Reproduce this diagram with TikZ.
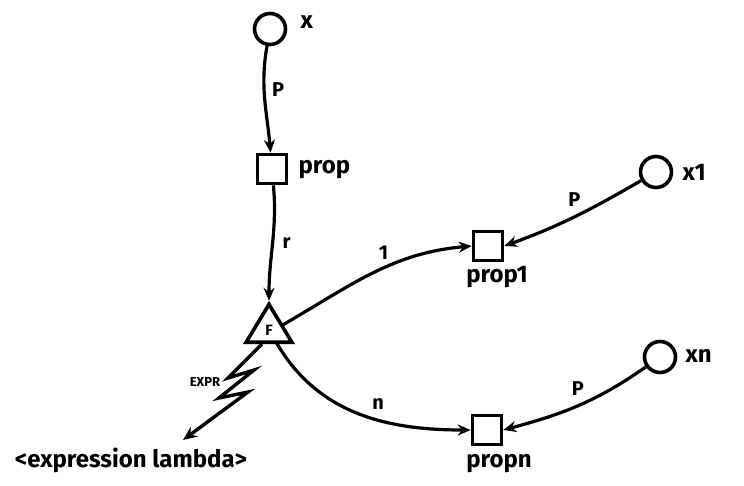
\documentclass[tikz,border=0pt]{standalone}
\usepackage{fontspec}
\setmainfont{Fira Sans}
\usetikzlibrary{arrows.meta,shapes.geometric}
\begin{document}
\begin{tikzpicture}[x=1pt,y=-1pt,
  every node/.style={font=\fontsize{24}{28}\selectfont\bfseries},
  place/.style={circle,draw,line width=3.6pt,minimum size=31pt,inner sep=0pt},
  trans/.style={rectangle,draw,line width=3.6pt,minimum size=29pt,inner sep=0pt},
  fun/.style={isosceles triangle,isosceles triangle apex angle=62,shape border rotate=90,draw,line width=3.6pt,inner sep=1pt,minimum height=38pt,font=\fontsize{15}{15}\selectfont\bfseries},
  arc/.style={line width=3.2pt,-{Stealth[length=13pt,width=11pt]}},
  lbl/.style={font=\fontsize{20}{22}\selectfont\bfseries}]
\useasboundingbox (0,0) rectangle (744,485);
\node[place] (x) at (270,29) {};
\node[anchor=west] (xl) at (297,22) {x};
\node[trans] (p) at (272,169) {};
\node[anchor=west] (pl) at (295,170) {prop};
\node[fun] (f) at (269,330) {F};
\node[trans] (p1) at (488,246) {};
\node (p1l) at (497,277) {prop1};
\node[place] (x1) at (656,172) {};
\node[anchor=west] (x1l) at (679,172) {x1};
\node[trans] (pn) at (487,430) {};
\node (pnl) at (499,464) {propn};
\node[place] (xn) at (660,357) {};
\node[anchor=west] (xnl) at (682,356) {xn};
\coordinate (e) at (183,440);
\node (el) at (131,460) {<expression lambda>};
\node[font=\fontsize{13}{14}\selectfont\bfseries] (expr) at (205,382) {EXPR};

\draw[arc] (x) to[out=-100,in=95] node[lbl,right=3pt,pos=0.4] {P} (p);
\draw[arc] (p) to[out=-85,in=90] node[lbl,right=5pt,pos=0.5] {r} (f.apex);
\draw[arc] (f.east) ++(-4,-5) to[out=30,in=185] node[lbl,above=4pt,pos=0.56] {1} (p1.west);
\draw[arc] (f.south east) ++(-7,-2) to[out=-60,in=180] node[lbl,above=5pt,pos=0.6] {n} (pn.west);
\draw[arc] (x1) to[out=-150,in=20] node[lbl,above=5pt,pos=0.5] {P} (p1.east);
\draw[arc] (xn) to[out=-145,in=15] node[lbl,above=5pt,pos=0.5] {P} (pn.east);
\draw[line width=3.4pt,line join=miter,-{Stealth[length=14pt,width=12pt]}] (f.south west) ++(7,0) -- (228,378) -- (254,370) -- (219,398) -- (248,392) -- (e);
\end{tikzpicture}
\end{document}
